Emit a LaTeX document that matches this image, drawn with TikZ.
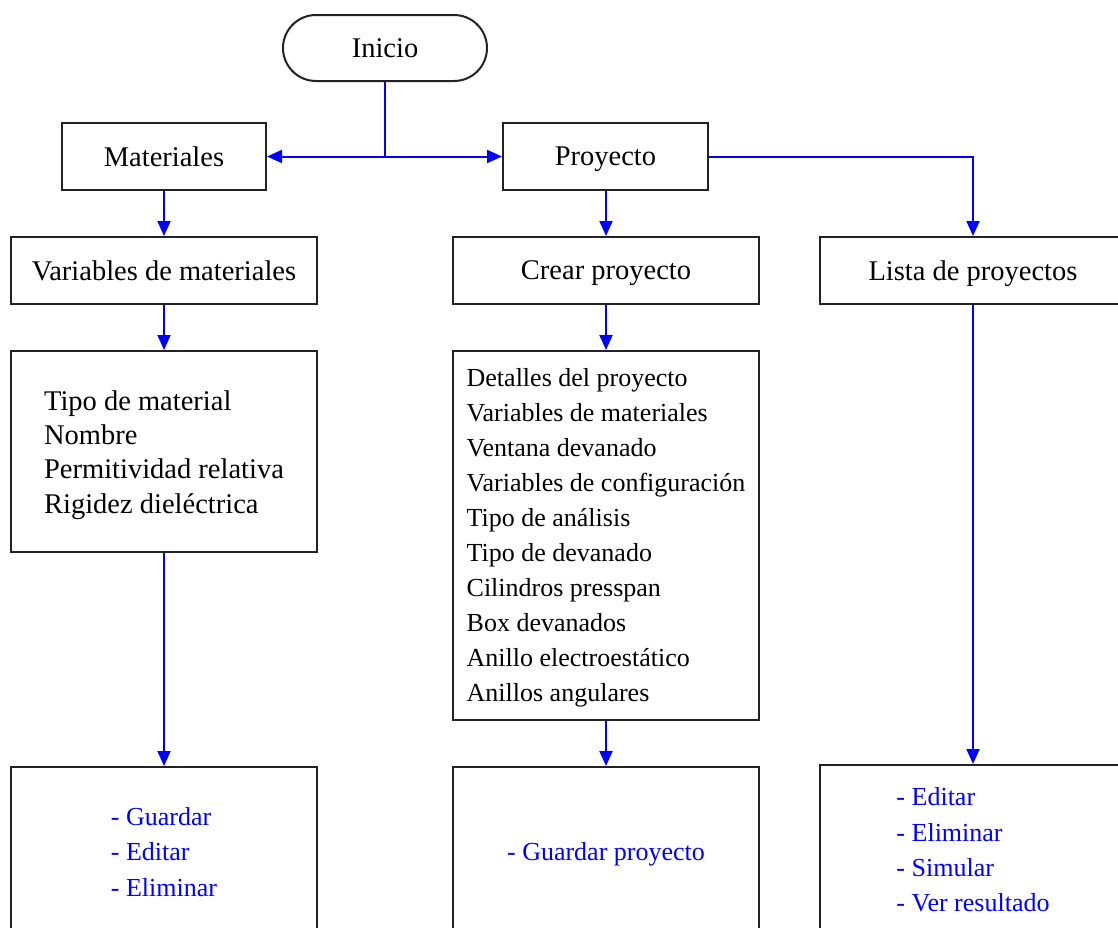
\documentclass[tikz,border=0pt]{standalone}
\usepackage{fontspec}
\setmainfont{Liberation Serif}
\usetikzlibrary{arrows.meta,shapes.misc}
\definecolor{edge}{RGB}{34,34,34}
\definecolor{flow}{RGB}{0,0,255}
\begin{document}
\begin{tikzpicture}[x=1pt,y=-1pt,
  box/.style={draw=edge,line width=2pt,rectangle,inner sep=0pt,fill=white,
    font=\fontsize{28.5}{34}\selectfont},
  labelbox/.style={box,text depth=0pt},
  term/.style={draw=edge,line width=2pt,rounded rectangle,inner sep=0pt,
    minimum width=204pt,minimum height=66pt,font=\fontsize{28.5}{34}\selectfont},
  textblock/.style={inner sep=0pt,align=left},
  actbox/.style={box,align=left,text=flow,font=\fontsize{26}{35.3}\selectfont},
  conn/.style={draw=flow,line width=2pt,-{Triangle[length=15pt,width=13pt]}}]
\useasboundingbox (0,0) rectangle (1118,927);
\clip (0,0) rectangle (1118,927);

% start terminal and top menu
\node[term] (inicio) at (385,48) {Inicio};
\node[labelbox,minimum width=204pt,minimum height=67pt] (mat) at (164,156.5) {Materiales};
\node[labelbox,minimum width=205pt,minimum height=67pt] (proy) at (605.5,156.5) {Proyecto};

% second row
\node[labelbox,minimum width=306pt,minimum height=67pt] (varmat) at (164,270.5) {Variables de materiales};
\node[labelbox,minimum width=306pt,minimum height=67pt] (crear) at (606,270.5) {Crear proyecto};
\node[labelbox,minimum width=306pt,minimum height=67pt] (lista) at (973,270.5) {Lista de proyectos};

% detail boxes with their field lists
\node[box,minimum width=306pt,minimum height=201pt] (tipo) at (164,451.5) {};
\node[textblock,font=\fontsize{28.5}{34.3}\selectfont] (tipoT) at (164,455)
  {Tipo de material\\Nombre\\Permitividad relativa\\Rigidez dieléctrica};
\node[box,minimum width=306pt,minimum height=369pt] (det) at (606,535.5) {};
\node[textblock,font=\fontsize{26}{35}\selectfont] (detT) at (606,538)
  {Detalles del proyecto\\Variables de materiales\\Ventana devanado\\
   Variables de configuración\\Tipo de análisis\\Tipo de devanado\\
   Cilindros presspan\\Box devanados\\Anillo electroestático\\Anillos angulares};

% action boxes
\node[actbox,minimum width=306pt,minimum height=170pt] (accL) at (164,852)
  {- Guardar\\- Editar\\- Eliminar};
\node[actbox,minimum width=306pt,minimum height=168pt,text depth=0pt] (accM) at (606,851)
  {- Guardar proyecto};
\node[actbox,minimum width=306pt,minimum height=170pt] (accR) at (973,850)
  {- Editar\\- Eliminar\\- Simular\\- Ver resultado};

% connectors
\coordinate (split) at (inicio.south |- mat.east);
\draw[conn,-] (inicio.south) -- (split);
\draw[conn] (split) -- (mat.east);
\draw[conn] (split) -- (proy.west);
\draw[conn] (proy.east) -| (lista.north);
\draw[conn] (mat.south) -- (varmat.north);
\draw[conn] (varmat.south) -- (tipo.north);
\draw[conn] (tipo.south) -- (accL.north);
\draw[conn] (proy.south -| crear.north) -- (crear.north);
\draw[conn] (crear.south) -- (det.north);
\draw[conn] (det.south) -- (accM.north);
\draw[conn] (lista.south) -- (accR.north);
\end{tikzpicture}
\end{document}
